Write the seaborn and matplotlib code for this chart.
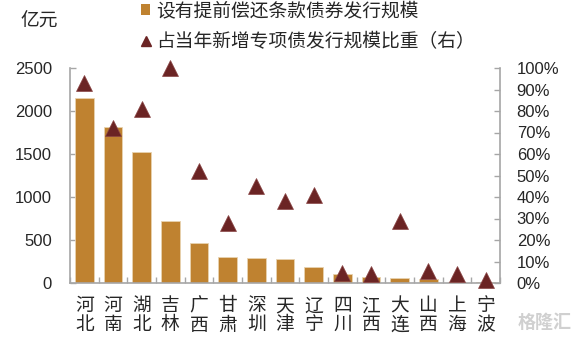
import matplotlib
matplotlib.use("Agg")
import matplotlib.pyplot as plt
from matplotlib.patches import Patch
from matplotlib.lines import Line2D
from matplotlib.ticker import FixedLocator, PercentFormatter
import seaborn as sns
import pandas as pd

# Regions (two-character names, drawn stacked vertically)
regions = ["河北", "河南", "湖北", "吉林", "广西", "甘肃", "深圳", "天津",
           "辽宁", "四川", "江西", "大连", "山西", "上海", "宁波"]
# Issuance of bonds with early-repayment clauses, 亿元
issuance = [2150, 1815, 1520, 720, 470, 302, 292, 275,
            190, 100, 74, 58, 47, 12, 10]
# Share of the year's new special-purpose bond issuance, %
share = [93, 72, 81, 100, 52, 28, 45, 38,
         41, 4.5, 4, 29, 5.5, 4, 1.5]

left_ticks = [0, 500, 1000, 1500, 2000, 2500]
right_ticks = list(range(0, 101, 10))

bar_color = "#BF8230"
tri_color = "#6B2424"
spine_color = "#A6A6A6"

df = pd.DataFrame({"region": regions, "issuance": issuance, "share": share})

sns.set_theme(style="white")
plt.rcParams["font.family"] = ["Liberation Sans", "Noto Sans CJK SC", "DejaVu Sans"]

fig = plt.figure(figsize=(5.77, 3.40), dpi=100)
ax = fig.add_axes([70 / 577, 57 / 340, 430 / 577, 215 / 340])

sns.barplot(data=df, x="region", y="issuance", order=regions, color=bar_color,
            saturation=1, width=0.66, edgecolor="#E8D2B0", linewidth=0.6, ax=ax)

ax2 = ax.twinx()
sns.pointplot(data=df, x="region", y="share", order=regions, color=tri_color,
              markers="^", linestyle="none", markersize=11.5,
              markeredgecolor="#8A4545", markeredgewidth=0.5, ax=ax2, zorder=5)
# let markers at 100% poke above the plot area
for ln in ax2.lines:
    ln.set_clip_on(False)

n = len(regions)
for a in (ax, ax2):
    a.set_xlim(-0.5, n - 0.5)
    a.set_xlabel("")
    a.set_ylabel("")

ax.set_ylim(0, 2500)
ax.yaxis.set_major_locator(FixedLocator(left_ticks))
ax2.set_ylim(0, 100)
ax2.yaxis.set_major_locator(FixedLocator(right_ticks))
ax2.yaxis.set_major_formatter(PercentFormatter(decimals=0))

# Category labels, one character per line
ax.set_xticks(range(n))
ax.set_xticklabels(["\n".join(r) for r in regions], linespacing=1.15)
ax.xaxis.set_minor_locator(FixedLocator([i + 0.5 for i in range(-1, n)]))
ax.tick_params(axis="x", which="major", length=0, pad=11, labelsize=13.5)
ax.tick_params(axis="x", which="minor", direction="in", length=4,
               color=spine_color, width=1, bottom=True)
ax.tick_params(axis="y", direction="in", length=4, color=spine_color, width=1,
               pad=13, labelsize=12, left=True)
ax2.tick_params(axis="y", direction="in", length=4, color=spine_color, width=1,
                pad=12, labelsize=12, right=True)

for a in (ax, ax2):
    for s in a.spines.values():
        s.set_visible(False)
    a.grid(False)
ax.spines["left"].set_visible(True)
ax.spines["bottom"].set_visible(True)
ax2.spines["right"].set_visible(True)
for sp in (ax.spines["left"], ax.spines["bottom"], ax2.spines["right"]):
    sp.set_color(spine_color)
    sp.set_linewidth(1.2)

ax2.set_zorder(ax.get_zorder() + 1)
ax2.patch.set_visible(False)

fig.text(20 / 577, 1 - 22 / 340, "亿元", fontsize=13.5, va="center", ha="left")

handles = [
    Patch(facecolor=bar_color, edgecolor="none"),
    Line2D([], [], marker="^", linestyle="none", color=tri_color, markersize=7),
]
labels = ["设有提前偿还条款债券发行规模", "占当年新增专项债发行规模比重（右）"]
fig.legend(handles, labels, loc="upper left", bbox_to_anchor=(141 / 577, 1 - 2 / 340),
           frameon=False, fontsize=13.5, handlelength=0.5, handleheight=0.55,
           handletextpad=0.3, labelspacing=0.7, borderpad=0, borderaxespad=0)

# Source mark
fig.text(572 / 577, 1 - 323 / 340, "格隆汇", fontsize=13, color="#D0D0D0",
         ha="right", va="center", fontweight="bold")

fig.savefig("out.png", dpi=100)
